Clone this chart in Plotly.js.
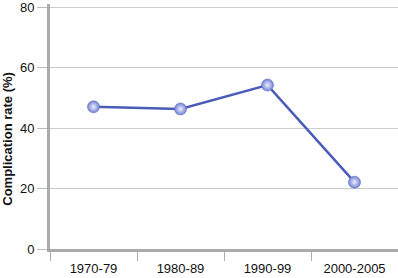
<!DOCTYPE html>
<html>
<head>
<meta charset="utf-8">
<script src="https://cdn.plot.ly/plotly-3.0.1.min.js"></script>
<style>html,body{margin:0;padding:0;background:#fff;}#chart{width:398px;height:278px;}</style>
</head>
<body>
<div id="chart"></div>
<script>
const periods = ["1970-79", "1980-89", "1990-99", "2000-2005"];
const complicationRate = [47, 46.3, 54.2, 22.1];
const yTickStep = 20;
const yTitle = "Complication rate (%)";

const trace = {
  x: periods,
  y: complicationRate,
  type: "scatter",
  mode: "lines+markers",
  line: {color: "#4a5cb8", width: 2.5},
  marker: {
    size: 12,
    color: "#7282d6",
    gradient: {type: "radial", color: "#eef0fd"},
    line: {color: "#5a6bc6", width: 0.6}
  },
  hoverinfo: "x+y"
};

const layout = {
  width: 398,
  height: 278,
  margin: {l: 50, r: 0, t: 4, b: 29},
  paper_bgcolor: "#ffffff",
  plot_bgcolor: "#ffffff",
  showlegend: false,
  font: {family: "Liberation Sans, Arial, sans-serif", size: 13, color: "#111"},
  xaxis: {
    type: "category",
    range: [-0.5, 3.5],
    tickson: "boundaries",
    ticks: "outside",
    ticklen: 9,
    tickcolor: "#aaaaaa",
    tickwidth: 1,
    ticklabelstandoff: 5,
    showline: true,
    linecolor: "#aaaaaa",
    linewidth: 3,
    showgrid: false,
    zeroline: false,
    tickfont: {size: 13},
    automargin: false
  },
  yaxis: {
    range: [0, 81],
    tickmode: "linear",
    tick0: 0,
    dtick: yTickStep,
    ticks: "outside",
    ticklen: 10,
    tickcolor: "#bbbbbb",
    tickwidth: 1,
    showline: true,
    linecolor: "#aaaaaa",
    linewidth: 3,
    showgrid: true,
    gridcolor: "#cccccc",
    gridwidth: 1,
    zeroline: false,
    tickfont: {size: 13},
    ticklabeloverflow: "allow",
    automargin: false
  },
  annotations: [{
    text: "<b>" + yTitle + "</b>",
    textangle: -90,
    xref: "paper", yref: "paper",
    x: 0, xshift: -42,
    y: 0.45,
    showarrow: false,
    font: {size: 13, color: "#111"},
    xanchor: "center", yanchor: "middle"
  }]
};

Plotly.newPlot("chart", [trace], layout, {displayModeBar: false, staticPlot: true});
</script>
</body>
</html>
